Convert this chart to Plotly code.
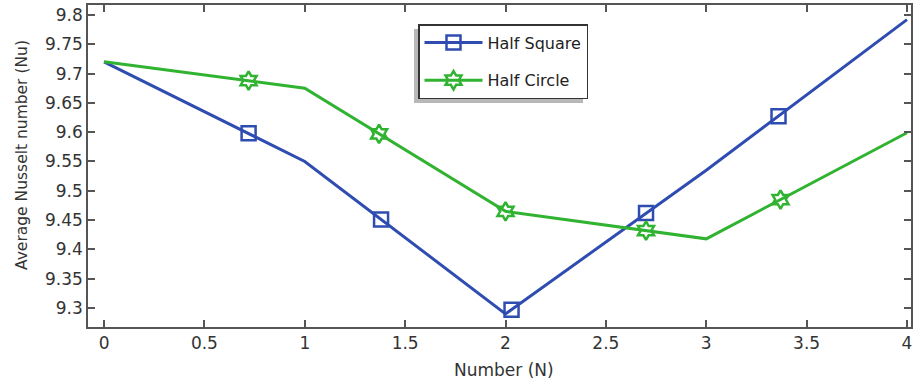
import plotly.graph_objects as go

# Data
x_data = [0, 1, 2, 3, 4]
half_square = [9.72, 9.55, 9.29, 9.535, 9.792]
half_circle = [9.72, 9.675, 9.465, 9.418, 9.599]

# marker positions (markers sit on the lines, not on data points)
sq_marker_x = [0.72, 1.38, 2.03, 2.70, 3.36]
sq_marker_y = [9.598, 9.451, 9.297, 9.462, 9.627]
ci_marker_x = [0.72, 1.37, 2.00, 2.70, 3.37]
ci_marker_y = [9.688, 9.597, 9.465, 9.432, 9.485]

x_ticks = [0, 0.5, 1, 1.5, 2, 2.5, 3, 3.5, 4]
x_tick_labels = ["0", "0.5", "1", "1.5", "2", "2.5", "3", "3.5", "4"]
y_ticks = [9.3, 9.35, 9.4, 9.45, 9.5, 9.55, 9.6, 9.65, 9.7, 9.75, 9.8]
y_tick_labels = ["9.3", "9.35", "9.4", "9.45", "9.5", "9.55", "9.6", "9.65", "9.7", "9.75", "9.8"]

BLUE = "#2f4cb0"
GREEN = "#30b330"
FONT = "DejaVu Sans"

fig = go.Figure()

series = [
    ("Half Square", half_square, sq_marker_x, sq_marker_y, BLUE, "square-open"),
    ("Half Circle", half_circle, ci_marker_x, ci_marker_y, GREEN, "hexagram-open"),
]
for name, ys, mx, my, col, sym in series:
    fig.add_trace(go.Scatter(x=x_data, y=ys, mode="lines", line=dict(color=col, width=3),
                             showlegend=False, legendgroup=name, hoverinfo="skip"))
    fig.add_trace(go.Scatter(x=mx, y=my, mode="markers",
                             marker=dict(symbol=sym, size=14, color=col, line=dict(width=2.5, color=col)),
                             showlegend=False, legendgroup=name))
    fig.add_trace(go.Scatter(x=[None], y=[None], mode="lines+markers", name=name, legendgroup=name,
                             line=dict(color=col, width=3),
                             marker=dict(symbol=sym, size=14, color=col, line=dict(width=2.5, color=col))))

L, R, T, B = 88, 911, 5, 327
W, H = 914, 381

def px_to_paper_x(px):
    return (px - L) / (R - L)

def px_to_paper_y(py):
    return (B - py) / (B - T)

# legend drop shadow (offset to the lower-left)
fig.add_shape(type="rect", xref="paper", yref="paper",
              x0=px_to_paper_x(414), x1=px_to_paper_x(583),
              y0=px_to_paper_y(103), y1=px_to_paper_y(29),
              fillcolor="#b8b8b8", line=dict(width=0), layer="above")

axis_common = dict(showline=True, linecolor="#555555", linewidth=1.5, mirror="allticks",
                   ticks="inside", ticklen=7, tickwidth=1.5, tickcolor="#555555",
                   showgrid=False, zeroline=False, automargin=False,
                   tickfont=dict(family=FONT, size=17, color="#333333"))

fig.update_xaxes(range=[-0.08, 4.02], tickvals=x_ticks, ticktext=x_tick_labels, **axis_common)
fig.update_yaxes(range=[9.2676, 9.817], tickvals=y_ticks, ticktext=y_tick_labels, **axis_common)

# axis titles as annotations for exact placement
fig.add_annotation(text="Number (N)", xref="paper", yref="paper",
                   x=px_to_paper_x(504), y=px_to_paper_y(370), xanchor="center", yanchor="middle",
                   showarrow=False, font=dict(family=FONT, size=17, color="#333333"))
fig.add_annotation(text="Average Nusselt number (Nu)", xref="paper", yref="paper", textangle=-90,
                   x=px_to_paper_x(22), y=px_to_paper_y(155), xanchor="center", yanchor="middle",
                   showarrow=False, font=dict(family=FONT, size=15.5, color="#333333"))

fig.update_layout(
    width=W, height=H,
    margin=dict(l=L, r=W - R, t=T, b=H - B),
    plot_bgcolor="white", paper_bgcolor="white",
    font=dict(family=FONT, size=17, color="#333333"),
    legend=dict(x=px_to_paper_x(418), y=px_to_paper_y(24), xanchor="left", yanchor="top",
                bgcolor="white", bordercolor="#333333", borderwidth=1.5,
                font=dict(family=FONT, size=16, color="#222222"),
                traceorder="grouped", tracegroupgap=14, itemwidth=58),
)

fig.write_html("out.html", config={"displayModeBar": False},
               post_script="document.body.style.margin='0';")
